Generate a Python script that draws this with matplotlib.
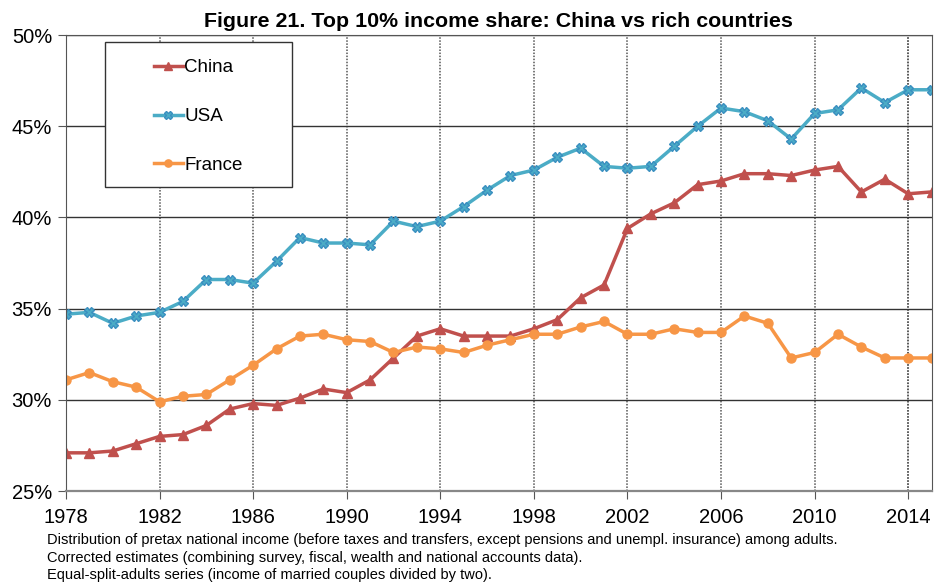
import numpy as np
import matplotlib
matplotlib.use("Agg")
import matplotlib.pyplot as plt
from matplotlib.patches import Rectangle
from matplotlib.ticker import FuncFormatter

plt.rcParams["font.family"] = ["Liberation Sans", "DejaVu Sans"]

years = list(range(1978, 2016))
china = [27.1, 27.1, 27.2, 27.6, 28.0, 28.1, 28.6, 29.5, 29.8, 29.7,
         30.1, 30.6, 30.4, 31.1, 32.3, 33.5, 33.9, 33.5, 33.5, 33.5,
         33.9, 34.4, 35.6, 36.3, 39.4, 40.2, 40.8, 41.8, 42.0, 42.4,
         42.4, 42.3, 42.6, 42.8, 41.4, 42.1, 41.3, 41.4]
usa = [34.7, 34.8, 34.2, 34.6, 34.8, 35.4, 36.6, 36.6, 36.4, 37.6,
       38.9, 38.6, 38.6, 38.5, 39.8, 39.5, 39.8, 40.6, 41.5, 42.3,
       42.6, 43.3, 43.8, 42.8, 42.7, 42.8, 43.9, 45.0, 46.0, 45.8,
       45.3, 44.3, 45.7, 45.9, 47.1, 46.3, 47.0, 47.0]
france = [31.1, 31.5, 31.0, 30.7, 29.9, 30.2, 30.3, 31.1, 31.9, 32.8,
          33.5, 33.6, 33.3, 33.2, 32.6, 32.9, 32.8, 32.6, 33.0, 33.3,
          33.6, 33.6, 34.0, 34.3, 33.6, 33.6, 33.9, 33.7, 33.7, 34.6,
          34.2, 32.3, 32.6, 33.6, 32.9, 32.3, 32.3, 32.3]

notes = ["Distribution of pretax national income (before taxes and transfers, except pensions and unempl. insurance) among adults.",
         "Corrected estimates (combining survey, fiscal, wealth and national accounts data).",
         "Equal-split-adults series (income of married couples divided by two)."]

fig = plt.figure(figsize=(9.45, 5.84), dpi=100)
ax = fig.add_axes([0.0698, 0.159, 0.916, 0.781])

ax.plot(years, china, color="#C0504D", lw=2.5, marker="^", ms=7.5, label="China")
ax.plot(years, usa, color="#4BACC6", lw=2.5, marker="X", ms=6.5,
        mfc="#4BACC6", mec="#3a8fc0", label="USA")
ax.plot(years, france, color="#F79646", lw=2.5, marker="o", ms=6.5, label="France")

ax.set_xlim(1978, 2015)
ax.set_ylim(25, 50)
ax.set_xticks(range(1978, 2015, 4))
ax.set_yticks(range(25, 51, 5))
ax.yaxis.set_major_formatter(FuncFormatter(lambda v, p: f"{v:.0f}%"))
ax.tick_params(axis="both", labelsize=14.5, length=6, color="#555555")
ax.tick_params(axis="x", pad=6)
ax.tick_params(axis="y", pad=4)
ax.grid(True, axis="y", color="#333333", lw=1.0)
ax.grid(True, axis="x", color="#555555", lw=1.1, ls=(0, (1, 1)))
ax.axvline(2014, color="#555555", lw=1.1, ls=(0, (1, 1)), zorder=0)
ax.set_axisbelow(True)
for s in ax.spines.values():
    s.set_color("#555555")
ax.spines["bottom"].set_color("#888888")
ax.spines["bottom"].set_linewidth(1.6)

ax.set_title("Figure 21. Top 10% income share: China vs rich countries",
             fontsize=15.4, fontweight="bold", pad=6)

# legend box drawn separately so its padding can differ per side
ax.add_patch(Rectangle((0.045, 0.667), 0.216, 0.318, transform=ax.transAxes,
                       facecolor="white", edgecolor="#333333", lw=1.0, zorder=4))
leg = ax.legend(loc="upper left", bbox_to_anchor=(0.1016, 0.947), fontsize=13.5,
                frameon=False, labelspacing=1.69, borderpad=0, handlelength=1.55,
                handletextpad=0.08, borderaxespad=0, markerscale=0.8)
leg.set_zorder(5)

for i, y in enumerate([0.0753, 0.0445, 0.0154]):
    fig.text(0.0497, y, notes[i], fontsize=10.5, va="center")

fig.savefig("out.png", dpi=100)
